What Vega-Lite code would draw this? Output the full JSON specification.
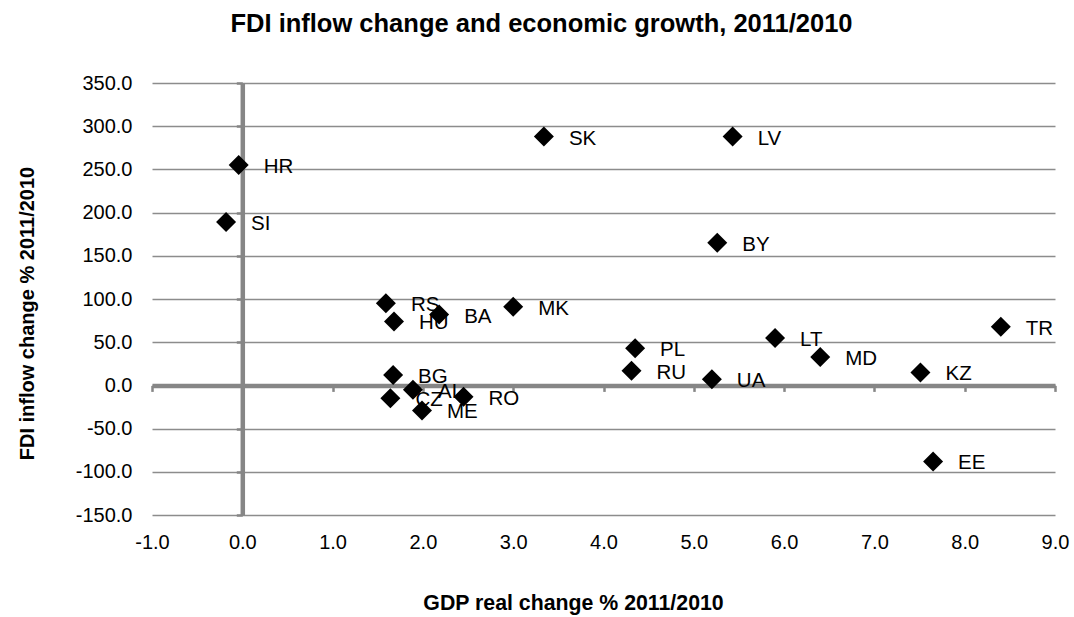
{
  "$schema": "https://vega.github.io/schema/vega-lite/v6.json",
  "width": 903,
  "height": 432,
  "autosize": {"type": "none"},
  "padding": {"left": 152, "top": 83, "right": 19, "bottom": 102},
  "background": "white",
  "config": {
    "view": {"stroke": null},
    "font": "Liberation Sans",
    "locale": {"number": {"decimal": ".", "thousands": ",", "grouping": [3], "currency": ["$", ""], "minus": "-"}}
  },
  "title": {
    "text": "FDI inflow change and economic growth, 2011/2010",
    "font": "Liberation Sans",
    "fontSize": 25.5,
    "fontWeight": "bold",
    "color": "black",
    "anchor": "middle",
    "frame": "group",
    "baseline": "alphabetic",
    "dx": -62,
    "offset": 16
  },
  "data": {
    "values": [
      {"country": "HR", "gdp": -0.04, "fdi": 255},
      {"country": "SI", "gdp": -0.18, "fdi": 189},
      {"country": "SK", "gdp": 3.34, "fdi": 288},
      {"country": "LV", "gdp": 5.43, "fdi": 288},
      {"country": "BY", "gdp": 5.26, "fdi": 165},
      {"country": "RS", "gdp": 1.59, "fdi": 95},
      {"country": "HU", "gdp": 1.68, "fdi": 74},
      {"country": "BA", "gdp": 2.18, "fdi": 82},
      {"country": "MK", "gdp": 3.0, "fdi": 91},
      {"country": "TR", "gdp": 8.4, "fdi": 68},
      {"country": "LT", "gdp": 5.9, "fdi": 55},
      {"country": "MD", "gdp": 6.4, "fdi": 33},
      {"country": "KZ", "gdp": 7.51, "fdi": 15},
      {"country": "EE", "gdp": 7.65, "fdi": -88},
      {"country": "PL", "gdp": 4.35, "fdi": 43},
      {"country": "RU", "gdp": 4.31, "fdi": 17},
      {"country": "UA", "gdp": 5.2, "fdi": 7},
      {"country": "BG", "gdp": 1.67, "fdi": 12},
      {"country": "AL", "gdp": 1.89, "fdi": -5},
      {"country": "CZ", "gdp": 1.64, "fdi": -15},
      {"country": "RO", "gdp": 2.45, "fdi": -13},
      {"country": "ME", "gdp": 1.99, "fdi": -29}
    ]
  },
  "layer": [
    {
      "mark": {"type": "text", "align": "left", "baseline": "middle", "dx": 25, "dy": 2, "fontSize": 20.5, "font": "Liberation Sans", "color": "black"},
      "encoding": {
        "x": {
          "field": "gdp", "type": "quantitative",
          "scale": {"domain": [-1, 9], "nice": false, "zero": false},
          "axis": {
            "orient": "bottom",
            "title": "GDP real change % 2011/2010",
            "titleFont": "Liberation Sans", "titleFontSize": 21.3, "titleFontWeight": "bold", "titleColor": "black",
            "titleX": 421, "titleY": 94, "titleBaseline": "alphabetic", "titleAlign": "center",
            "values": [-1, 0, 1, 2, 3, 4, 5, 6, 7, 8, 9],
            "format": ".1f",
            "grid": false, "domain": false, "ticks": false,
            "labelPadding": 17, "labelFontSize": 20, "labelFont": "Liberation Sans", "labelColor": "black",
            "labelFlush": false, "labelOverlap": false
          }
        },
        "y": {
          "field": "fdi", "type": "quantitative",
          "scale": {"domain": [-150, 350], "nice": false, "zero": false},
          "axis": {
            "orient": "left",
            "title": "FDI inflow change  % 2011/2010",
            "titleFont": "Liberation Sans", "titleFontSize": 20, "titleFontWeight": "bold", "titleColor": "black",
            "titleX": -119, "titleY": 230, "titleBaseline": "alphabetic", "titleAlign": "center", "titleAngle": -90,
            "values": [-150, -100, -50, 0, 50, 100, 150, 200, 250, 300, 350],
            "format": ".1f",
            "grid": true, "gridColor": "#8c8c8c", "gridWidth": 1.3,
            "domain": false, "ticks": false,
            "labelPadding": 20, "labelFontSize": 20, "labelFont": "Liberation Sans", "labelColor": "black",
            "labelFlush": false, "labelOverlap": false
          }
        },
        "text": {"field": "country", "type": "nominal"}
      }
    },
    {
      "mark": {"type": "point", "shape": "diamond", "filled": true, "color": "black", "size": 400, "opacity": 1},
      "encoding": {
        "x": {
          "field": "gdp", "type": "quantitative",
          "axis": {
            "orient": "bottom", "offset": -129.6, "title": null, "labels": false, "grid": false,
            "values": [-1, 0, 1, 2, 3, 4, 5, 6, 7, 8, 9],
            "domain": true, "domainColor": "#868686", "domainWidth": 4.5,
            "ticks": true, "tickColor": "#868686", "tickWidth": 2.5, "tickSize": 6
          }
        },
        "y": {
          "field": "fdi", "type": "quantitative",
          "axis": {
            "orient": "left", "offset": -90.3, "title": null, "labels": false, "grid": false,
            "values": [-150, -100, -50, 0, 50, 100, 150, 200, 250, 300, 350],
            "domain": true, "domainColor": "#868686", "domainWidth": 4.5,
            "ticks": true, "tickColor": "#868686", "tickWidth": 2.5, "tickSize": 6
          }
        }
      }
    }
  ],
  "resolve": {"axis": {"x": "independent", "y": "independent"}}
}
